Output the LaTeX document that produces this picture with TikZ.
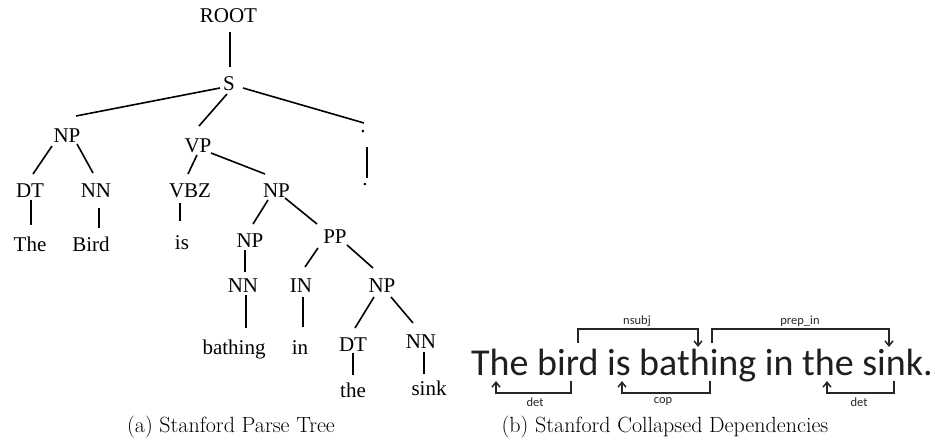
\documentclass[tikz,border=0pt]{standalone}
\usepackage{fontspec}
\newfontfamily\treefont{Liberation Serif}
\newfontfamily\depfont{Carlito}
\usetikzlibrary{arrows.meta}
\newcommand\tedge[4]{\draw[tline] ([shift={(#2)}]#1.base) -- ([shift={(#4)}]#3.base);}
\begin{document}
\begin{tikzpicture}[x=1pt,y=-1pt,
  tn/.style={font={\treefont\fontsize{21}{24}\selectfont}, anchor=base, inner sep=0pt},
  tline/.style={line width=1.6pt, black},
  sent/.style={font={\depfont\fontsize{38}{44}\selectfont}, anchor=base west, inner sep=0pt, text=black!88},
  deplab/.style={font={\depfont\fontsize{12.5}{14}\selectfont}, anchor=base, inner sep=0pt, text=black!85},
  depline/.style={line width=1.5pt, black!85, -{Straight Barb[length=5pt,width=8pt]}},
  captext/.style={font={\fontsize{22}{26}\selectfont}, anchor=base, inner sep=0pt}]
\useasboundingbox (0,0) rectangle (935,444);
% ---------------- parse tree ----------------
\node[tn] (root) at (228.5,23) {ROOT};
\node[tn] (S) at (229,91) {S};
\node[tn] (np1) at (67,142) {NP};
\node[tn] (vp) at (198,152) {VP};
\node[tn] (dot1) at (363,132) {.};
\node[tn] (dt1) at (30,197) {DT};
\node[tn] (nn1) at (96,197) {NN};
\node[tn] (vbz) at (190,197) {VBZ};
\node[tn] (np2) at (276.5,197) {NP};
\node[tn] (dot2) at (365,185) {.};
\node[tn] (the1) at (30,251) {The};
\node[tn] (bird) at (91,251) {Bird};
\node[tn] (is) at (182,249) {is};
\node[tn] (np3) at (250,247) {NP};
\node[tn] (pp) at (335,243) {PP};
\node[tn] (nn2) at (243,292) {NN};
\node[tn] (in1) at (301,292) {IN};
\node[tn] (np4) at (382,292) {NP};
\node[tn] (bathing) at (234,354) {bathing};
\node[tn] (in) at (300,354) {in};
\node[tn] (dt2) at (353,351) {DT};
\node[tn] (nn3) at (421,348) {NN};
\node[tn] (the2) at (353,397) {the};
\node[tn] (sink) at (429,395) {sink};
\tedge{root}{1.5,9}{S}{1,-24}
\tedge{S}{-9,-3}{np1}{9,-26}
\tedge{S}{-2,3}{vp}{1,-26}
\tedge{S}{14,-3}{dot1}{1,-9}
\tedge{np1}{-15,4}{dt1}{3,-23}
\tedge{np1}{10,2}{nn1}{-3,-24}
\tedge{vp}{-1,3}{vbz}{-2,-23}
\tedge{vp}{13,1}{np2}{-11.5,-23}
\tedge{dot1}{4,15}{dot2}{2,-7}
\tedge{dt1}{1,3}{the1}{1,-26}
\tedge{nn1}{3,11}{bird}{8,-23}
\tedge{vbz}{-10,6}{is}{-2,-28}
\tedge{np2}{-8.5,3}{np3}{3,-23}
\tedge{np2}{8.5,1}{pp}{-18,-19}
\tedge{np3}{-5,3}{nn2}{2,-20}
\tedge{pp}{-17,5}{in1}{4,-25}
\tedge{pp}{12,2}{np4}{-9,-24}
\tedge{nn2}{3,3}{bathing}{12,-26}
\tedge{in1}{2,5}{in}{3,-27}
\tedge{np4}{-8,5}{dt2}{2,-23}
\tedge{np4}{9,5}{nn3}{-8,-25}
\tedge{dt2}{0,2}{the2}{0,-22}
\tedge{nn3}{3,4}{sink}{-5,-21}
\node[captext] (capa) at (231,432) {(a) Stanford Parse Tree};
% ---------------- dependencies ----------------
\node[sent] (sentence) at (471,375) {The bird is bathing in the sink.};
\coordinate (nsA) at (578,343);
\coordinate (nsB) at (698,347);
\coordinate (ppA) at (712,343);
\coordinate (ppB) at (889,347);
\coordinate (d1A) at (571,381);
\coordinate (d1B) at (496,381);
\coordinate (cpA) at (710,381);
\coordinate (cpB) at (622,381);
\coordinate (d2A) at (894,381);
\coordinate (d2B) at (827,381);
\draw[depline] (nsA) -- ++(0,-14) -| (nsB);
\draw[depline] (ppA) -- ++(0,-14) -| (ppB);
\draw[depline] (d1A) -- ++(0,12) -| (d1B);
\draw[depline] (cpA) -- ++(0,12) -| (cpB);
\draw[depline] (d2A) -- ++(0,12) -| (d2B);
\node[deplab] (lns) at (637,324) {nsubj};
\node[deplab] (lpp) at (800,324) {prep\_in};
\node[deplab] (ld1) at (535,406) {det};
\node[deplab] (lcp) at (663,403) {cop};
\node[deplab] (ld2) at (859,406) {det};
\node[captext] (capb) at (665,432) {(b) Stanford Collapsed Dependencies};
\end{tikzpicture}
\end{document}
